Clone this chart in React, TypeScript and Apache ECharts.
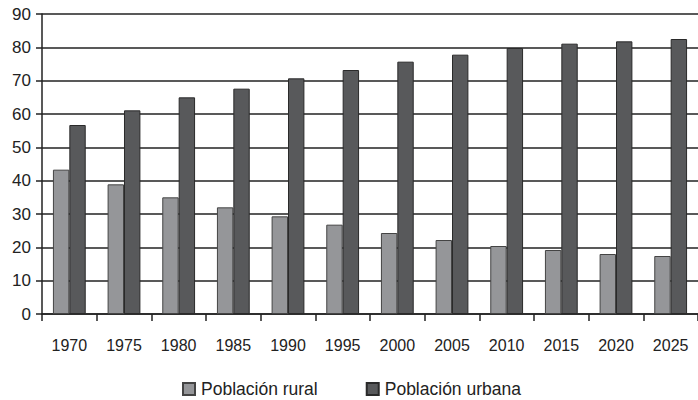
import React, { useEffect, useRef } from "react";
import * as echarts from "echarts";

const years = ["1970", "1975", "1980", "1985", "1990", "1995", "2000", "2005", "2010", "2015", "2020", "2025"];
const rural = [43.3, 38.9, 35.0, 32.0, 29.3, 26.8, 24.3, 22.2, 20.4, 19.2, 18.0, 17.4];
const urbana = [56.7, 61.1, 65.0, 67.6, 70.7, 73.2, 75.7, 77.8, 79.8, 81.1, 81.8, 82.5];
const seriesNames = ["Población rural", "Población urbana"];

const FONT = '"Liberation Sans Narrow", "Arial Narrow", "Liberation Sans", Arial, sans-serif';

export default function App() {
  const ref = useRef<HTMLDivElement>(null);
  useEffect(() => {
    if (!ref.current) return;
    const chart = echarts.init(ref.current, null, { renderer: "svg" });
    chart.setOption({
      animation: false,
      backgroundColor: "#ffffff",
      textStyle: { fontFamily: FONT },
      grid: { left: 42, top: 14, bottom: 86, width: 662, containLabel: false },
      legend: {
        bottom: -3,
        left: 177,
        itemWidth: 12,
        itemHeight: 12,
        itemGap: 48,
        icon: "rect",
        textStyle: { fontFamily: FONT, fontSize: 17.5, color: "#222", padding: [0, 0, 0, 1] },
        data: seriesNames,
      },
      xAxis: {
        type: "category",
        data: years,
        axisLine: { lineStyle: { color: "#222", width: 1.5 } },
        axisTick: { show: true, length: 7, alignWithLabel: false, lineStyle: { color: "#222", width: 1.5 } },
        axisLabel: { fontFamily: FONT, fontSize: 16, color: "#222", margin: 23, interval: 0 },
      },
      yAxis: {
        type: "value",
        min: 0,
        max: 90,
        interval: 10,
        axisLine: { show: true, lineStyle: { color: "#222", width: 1.5 } },
        axisTick: { show: true, length: 6, lineStyle: { color: "#222", width: 1.5 } },
        axisLabel: { fontFamily: FONT, fontSize: 17, color: "#222", margin: 11 },
        splitLine: { show: true, lineStyle: { color: "#222", width: 1.5 } },
      },
      series: [
        {
          name: seriesNames[0],
          type: "bar",
          data: rural,
          barGap: "0%",
          barCategoryGap: "40%",
          itemStyle: { color: "#959699", borderColor: "#444", borderWidth: 1 },
        },
        {
          name: seriesNames[1],
          type: "bar",
          data: urbana,
          barGap: "0%",
          barCategoryGap: "40%",
          itemStyle: { color: "#58595b", borderColor: "#2a2a2a", borderWidth: 1 },
        },
      ],
    });
    return () => chart.dispose();
  }, []);
  return <div ref={ref} style={{ width: 698, height: 400, position: "absolute", left: 0, top: 0 }} />;
}
